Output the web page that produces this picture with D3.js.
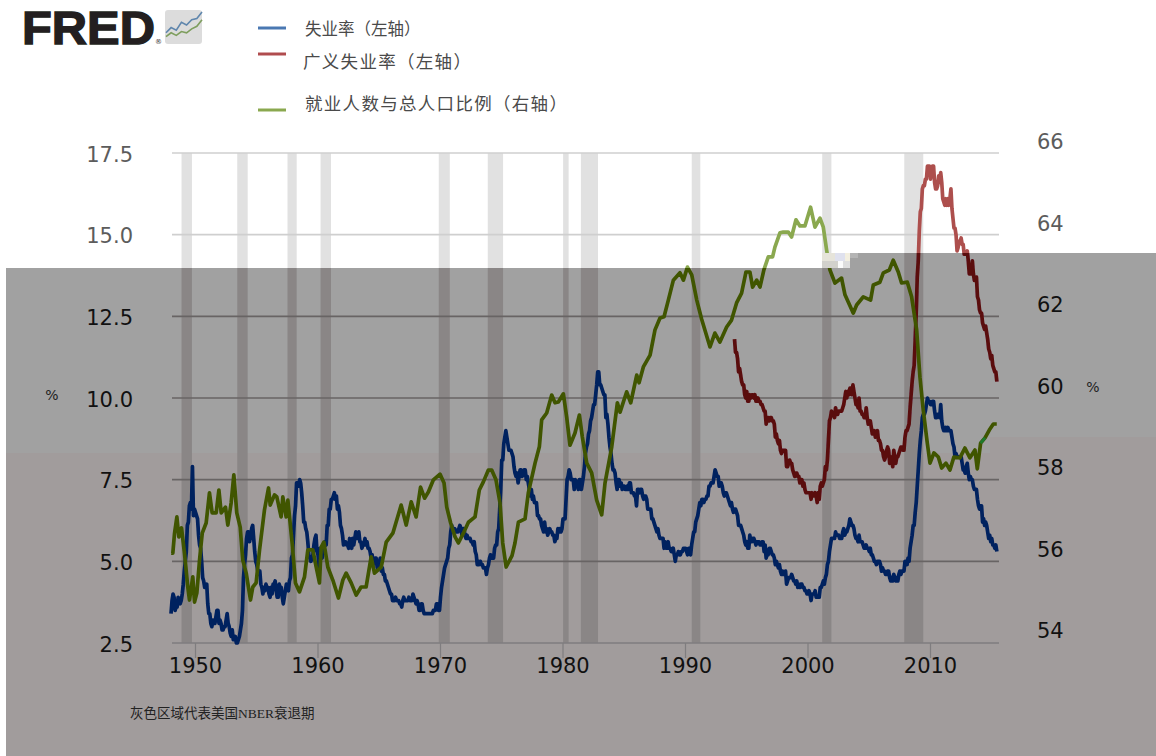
<!DOCTYPE html>
<html><head><meta charset="utf-8">
<script src="https://cdn.jsdelivr.net/npm/d3@7"></script>
<style>
html,body{margin:0;padding:0;background:#fff}
svg{display:block}
text{font-family:"DejaVu Sans",sans-serif}
</style></head><body><svg id="c" width="1156" height="756"></svg>
<script>
// ---------- data ----------
const leftTicks=[2.5,5,7.5,10,12.5,15,17.5];
const rightTicks=[54,56,58,60,62,64,66];
const yearTicks=[1950,1960,1970,1980,1990,2000,2010];
const recessionStart=[1948.9,1953.45,1957.55,1960.25,1969.9,1973.9,1980.05,1981.5,1990.55,2001.2,2007.9];
const recessionEnd=[1949.75,1954.3,1958.3,1961.1,1970.8,1975.15,1980.5,1982.9,1991.25,2001.95,2009.45];
const legendLabels=["失业率（左轴）","广义失业率（左轴）","就业人数与总人口比例（右轴）"];
const footnote="灰色区域代表美国NBER衰退期";
// monthly, from Jan 1948
const unemployment=[
3.4,3.8,4.0,3.9,3.5,3.6,3.6,3.9,3.8,3.7,3.8,4.0,
4.3,4.7,5.0,5.3,6.1,6.2,6.7,6.8,6.6,7.9,6.4,6.6,
6.5,6.4,6.3,5.8,5.5,5.4,5.0,4.5,4.4,4.2,4.2,4.3,
3.7,3.4,3.4,3.1,3.0,3.2,3.1,3.1,3.3,3.5,3.5,3.1,
3.2,3.1,2.9,2.9,3.0,3.0,3.2,3.4,3.1,3.0,2.8,2.7,
2.9,2.6,2.6,2.7,2.5,2.5,2.6,2.7,2.9,3.1,3.5,4.5,
4.9,5.2,5.7,5.9,5.9,5.6,5.8,6.0,6.1,5.7,5.3,5.0,
4.9,4.7,4.6,4.7,4.3,4.2,4.0,4.2,4.1,4.3,4.2,4.2,
4.0,3.9,4.2,4.0,4.3,4.3,4.4,4.1,3.9,3.9,4.3,4.2,
4.2,3.9,3.7,3.9,4.1,4.3,4.2,4.1,4.4,4.5,5.1,5.2,
5.8,6.4,6.7,7.4,7.4,7.3,7.5,7.4,7.1,6.7,6.2,6.2,
6.0,5.9,5.6,5.2,5.1,5.0,5.1,5.2,5.5,5.7,5.8,5.3,
5.2,4.8,5.4,5.2,5.1,5.4,5.5,5.6,5.5,6.1,6.1,6.6,
6.6,6.9,6.9,7.0,7.1,6.9,7.0,6.6,6.7,6.5,6.1,6.0,
5.8,5.5,5.6,5.6,5.5,5.5,5.4,5.7,5.6,5.4,5.7,5.5,
5.7,5.9,5.7,5.7,5.9,5.6,5.6,5.4,5.5,5.5,5.7,5.5,
5.6,5.4,5.4,5.3,5.1,5.2,4.9,5.0,5.1,5.1,4.8,5.0,
4.9,5.1,4.7,4.8,4.6,4.6,4.4,4.4,4.3,4.2,4.1,4.0,
4.0,3.8,3.8,3.8,3.9,3.8,3.8,3.8,3.7,3.7,3.6,3.8,
3.9,3.8,3.8,3.8,3.8,3.9,3.8,3.8,3.8,4.0,3.9,3.8,
3.7,3.8,3.7,3.5,3.5,3.7,3.7,3.5,3.4,3.4,3.4,3.4,
3.4,3.4,3.4,3.4,3.4,3.5,3.5,3.5,3.7,3.7,3.5,3.5,
3.9,4.2,4.4,4.6,4.8,4.9,5.0,5.1,5.4,5.5,5.9,6.1,
5.9,5.9,6.0,5.9,5.9,5.9,6.0,6.1,6.0,5.8,6.0,6.0,
5.8,5.7,5.8,5.7,5.7,5.7,5.6,5.6,5.5,5.6,5.3,5.2,
4.9,5.0,4.9,5.0,4.9,4.9,4.8,4.8,4.8,4.6,4.8,4.9,
5.1,5.2,5.1,5.1,5.1,5.4,5.5,5.5,5.9,6.0,6.6,7.2,
8.1,8.1,8.6,8.8,9.0,8.8,8.6,8.4,8.4,8.4,8.3,8.2,
7.9,7.7,7.6,7.7,7.4,7.6,7.8,7.8,7.6,7.7,7.8,7.8,
7.5,7.6,7.4,7.2,7.0,7.2,6.9,7.0,6.8,6.8,6.8,6.4,
6.4,6.3,6.3,6.1,6.0,5.9,6.2,5.9,6.0,5.8,5.9,6.0,
5.9,5.9,5.8,5.8,5.6,5.7,5.7,6.0,5.9,6.0,5.9,6.0,
6.3,6.3,6.3,6.9,7.5,7.6,7.8,7.7,7.5,7.5,7.5,7.2,
7.5,7.4,7.4,7.2,7.5,7.5,7.2,7.4,7.6,7.9,8.3,8.5,
8.6,8.9,9.0,9.3,9.4,9.6,9.8,9.8,10.1,10.4,10.8,10.8,
10.4,10.4,10.3,10.2,10.1,10.1,9.4,9.5,9.2,8.8,8.5,8.3,
8.0,7.8,7.8,7.7,7.4,7.2,7.5,7.5,7.3,7.4,7.2,7.3,
7.3,7.2,7.2,7.3,7.2,7.4,7.4,7.1,7.1,7.1,7.0,7.0,
6.7,7.2,7.2,7.1,7.2,7.2,7.0,6.9,7.0,7.0,6.9,6.6,
6.6,6.6,6.6,6.3,6.3,6.2,6.1,6.0,5.9,6.0,5.8,5.7,
5.7,5.7,5.7,5.4,5.6,5.4,5.4,5.6,5.4,5.4,5.3,5.3,
5.4,5.2,5.0,5.2,5.2,5.3,5.2,5.2,5.3,5.3,5.4,5.4,
5.4,5.3,5.2,5.4,5.4,5.2,5.5,5.7,5.9,5.9,6.2,6.3,
6.4,6.6,6.8,6.7,6.9,6.9,6.8,6.9,6.9,7.0,7.0,7.3,
7.3,7.4,7.4,7.4,7.6,7.8,7.7,7.6,7.6,7.3,7.4,7.4,
7.3,7.1,7.0,7.1,7.1,7.0,6.9,6.8,6.7,6.8,6.6,6.5,
6.6,6.6,6.5,6.4,6.1,6.1,6.1,6.0,5.9,5.8,5.6,5.5,
5.6,5.4,5.4,5.8,5.6,5.6,5.7,5.7,5.6,5.5,5.6,5.6,
5.6,5.5,5.5,5.6,5.6,5.3,5.5,5.1,5.2,5.2,5.4,5.4,
5.3,5.2,5.2,5.1,4.9,5.0,4.9,4.8,4.9,4.7,4.6,4.7,
4.6,4.6,4.7,4.3,4.4,4.5,4.5,4.5,4.6,4.5,4.4,4.4,
4.3,4.4,4.2,4.3,4.2,4.3,4.3,4.2,4.2,4.1,4.1,4.0,
4.0,4.1,4.0,3.8,4.0,4.0,4.0,4.1,3.9,3.9,3.9,3.9,
4.2,4.2,4.3,4.4,4.3,4.5,4.6,4.9,5.0,5.3,5.5,5.7,
5.7,5.7,5.7,5.9,5.8,5.8,5.8,5.7,5.7,5.7,5.9,6.0,
5.8,5.9,5.9,6.0,6.1,6.3,6.2,6.1,6.1,6.0,5.8,5.7,
5.7,5.6,5.8,5.6,5.6,5.6,5.5,5.4,5.4,5.5,5.4,5.4,
5.3,5.4,5.2,5.2,5.1,5.0,5.0,4.9,5.0,5.0,5.0,4.9,
4.7,4.8,4.7,4.7,4.6,4.6,4.7,4.7,4.5,4.4,4.5,4.4,
4.6,4.5,4.4,4.5,4.4,4.6,4.7,4.6,4.7,4.7,4.7,5.0,
5.0,4.9,5.1,5.0,5.4,5.6,5.8,6.1,6.1,6.5,6.8,7.3,
7.8,8.3,8.7,9.0,9.4,9.5,9.5,9.6,9.8,10.0,9.9,9.9,
9.8,9.8,9.9,9.9,9.6,9.4,9.4,9.5,9.5,9.4,9.8,9.3,
9.1,9.0,9.0,9.1,9.0,9.1,9.0,9.0,9.0,8.8,8.6,8.5,
8.2,8.3,8.2,8.2,8.2,8.2,8.2,8.0,7.8,7.8,7.7,7.9,
8.0,7.7,7.5,7.6,7.5,7.5,7.3,7.2,7.2,7.2,6.9,6.7,
6.6,6.7,6.7,6.2,6.3,6.1,6.2,6.1,5.9,5.7,5.8,5.6,
5.7,5.5,5.5,5.4,5.5,5.3];
// monthly, from Jan 1994
const broadUnemployment=[
11.8,11.4,11.4,11.2,10.8,10.9,10.7,10.5,10.4,10.4,10.1,10.0,
10.2,9.9,9.9,10.1,10.0,10.1,10.1,10.0,10.1,9.9,9.9,10.0,
9.9,9.9,9.8,9.8,9.7,9.6,9.6,9.2,9.4,9.4,9.3,9.4,
9.4,9.3,9.3,9.2,8.8,8.9,8.7,8.6,8.7,8.4,8.3,8.4,
8.4,8.4,8.4,7.9,7.9,8.0,8.1,8.0,8.0,7.8,7.7,7.6,
7.7,7.7,7.6,7.6,7.4,7.5,7.5,7.3,7.4,7.2,7.1,7.1,
7.1,7.1,7.1,6.9,7.1,7.0,7.0,7.1,7.0,6.8,7.1,6.9,
7.3,7.4,7.3,7.4,7.5,7.9,7.8,8.1,8.7,9.3,9.4,9.6,
9.5,9.5,9.4,9.7,9.5,9.5,9.6,9.6,9.6,9.6,9.7,9.8,
10.0,10.2,10.0,10.2,10.1,10.3,10.3,10.1,10.4,10.2,10.0,9.8,
9.9,9.7,10.0,9.6,9.6,9.5,9.5,9.4,9.4,9.7,9.4,9.2,
9.3,9.3,9.1,8.9,8.9,9.0,8.8,8.9,9.0,8.7,8.7,8.6,
8.4,8.4,8.2,8.1,8.2,8.4,8.5,8.4,8.0,8.2,8.1,7.9,
8.4,8.2,8.0,8.2,8.2,8.3,8.4,8.5,8.5,8.4,8.4,8.8,
9.0,9.0,9.1,9.2,9.7,10.1,10.5,10.8,11.0,11.8,12.6,13.7,
14.2,15.1,15.7,15.8,16.4,16.5,16.5,16.7,16.7,17.1,17.1,17.1,
16.7,17.0,17.1,17.1,16.6,16.4,16.4,16.5,16.8,16.6,16.9,16.6,
16.1,16.0,15.9,16.1,15.9,16.1,15.9,16.1,16.4,15.8,15.5,15.2,
15.2,15.0,14.5,14.6,14.8,14.8,14.9,14.7,14.7,14.4,14.4,14.4,
14.5,14.2,13.8,13.9,13.8,14.2,13.8,13.6,13.6,13.7,13.1,13.0,
12.7,12.6,12.6,12.3,12.2,12.1,12.2,12.0,11.8,11.5,11.4,11.2,
11.3,11.0,10.9,10.8,10.8,10.5];
const ratioYears=[1948.05,1948.19,1948.33,1948.52,1948.68,1948.9,1949.14,1949.41,1949.55,1949.82,1949.96,1950.15,1950.37,1950.59,1950.91,1951.18,1951.4,1951.73,1951.95,1952.14,1952.49,1952.68,1952.95,1953.17,1953.41,1953.69,1953.9,1954.18,1954.53,1954.72,1954.99,1955.27,1955.67,1956,1956.14,1956.49,1956.68,1957.03,1957.17,1957.44,1957.58,1957.93,1958.2,1958.53,1958.94,1959.21,1959.62,1959.89,1960.16,1960.3,1960.52,1960.84,1961.25,1961.71,1962.07,1962.34,1962.75,1963.16,1963.56,1963.97,1964.38,1964.65,1965.2,1965.61,1966.15,1966.83,1967.24,1967.65,1968.05,1968.41,1968.74,1969.05,1969.46,1970,1970.33,1970.55,1970.87,1971.23,1971.5,1971.91,1972.32,1972.86,1973.21,1973.54,1973.95,1974.22,1974.57,1974.9,1975.12,1975.4,1975.88,1976.12,1976.4,1976.94,1977.21,1977.76,1978.11,1978.3,1978.71,1979.12,1979.39,1979.66,1980.07,1980.34,1980.61,1981.02,1981.38,1981.62,1981.98,1982.38,1982.79,1983.2,1983.47,1984.02,1984.48,1984.7,1985.24,1985.57,1986.06,1986.25,1986.6,1987.15,1987.55,1987.96,1988.29,1988.64,1989.05,1989.59,1989.87,1990.2,1990.55,1990.96,1991.36,1992.04,1992.44,1992.85,1993.4,1993.8,1994.21,1994.62,1994.98,1995.3,1995.52,1995.85,1996.12,1996.44,1996.8,1997.15,1997.34,1997.75,1998.02,1998.43,1998.7,1999.06,1999.38,1999.79,2000.25,2000.61,2001.02,2001.29,2001.56,2001.83,2002.24,2002.78,2003.06,2003.74,2004.01,2004.55,2005.15,2005.37,2005.91,2006.19,2006.68,2007,2007.41,2007.68,2008.15,2008.5,2008.91,2009.18,2009.45,2009.78,2010,2010.32,2010.68,2010.95,2011.3,2011.63,2011.95,2012.44,2012.85,2013.26,2013.67,2013.86,2014.13,2014.49,2014.84,2015.17,2015.45];
const ratioValues=[55.91,55.91,56.4,56.8,56.31,56.53,55.91,55.08,54.76,55.33,54.71,54.93,55.74,56.4,56.65,57.39,56.9,56.9,57.46,56.9,57.04,56.6,57.14,57.83,56.9,56.55,55.74,55.42,54.76,55.08,55.18,55.99,56.97,57.51,57.09,57.34,57.29,56.8,57.29,56.8,57.21,56.16,55.18,54.96,55.33,55.99,55.99,55.57,55.18,56.06,56.18,55.57,55.25,54.81,55.25,55.42,55.18,54.88,55.08,55.08,55.82,55.42,55.57,56.18,56.4,57.09,56.6,57.17,56.8,57.53,57.26,57.41,57.71,57.85,57.63,57.04,56.65,56.31,56.16,56.4,56.67,56.8,57.46,57.66,57.95,57.95,57.71,57.14,56.16,55.57,55.85,56.16,56.67,56.75,57.39,58.12,58.52,59.18,59.35,59.79,59.6,59.62,59.82,59.25,58.56,58.86,59.3,58.76,58.12,57.88,57.21,56.85,57.63,58.52,59.6,59.37,59.87,59.6,60.28,60.09,60.48,60.77,61.39,61.68,61.71,62.12,62.61,62.79,62.61,62.93,62.74,62.12,61.65,60.97,61.31,61.09,61.46,61.63,62.05,62.29,62.81,62.81,62.44,62.61,62.44,62.86,63.18,63.18,63.42,63.77,63.79,63.79,63.67,64.09,63.94,63.94,64.4,63.91,64.13,63.91,63.35,62.86,62.54,62.66,62.25,61.8,62,62.2,62.12,62.49,62.56,62.79,62.86,63.1,62.81,62.54,62.56,62.2,61.39,60.23,59.42,58.61,58.12,58.37,58.27,58,58.12,57.95,58.27,58.25,58.49,58.25,58.44,57.98,58.61,58.74,58.93,59.08,59.08];
const logoBlue=[0,1,2,3,4,5,6,7];
const logoBlueV=[2,4,3,6,5,7,7.5,10];
const logoGreenV=[0.5,2,1,2.5,2,3.5,4.5,7];

// ---------- scales ----------
const svg=d3.select("#c");
const x=d3.scaleLinear().domain([1950,2010]).range([195,930]);
const yL=d3.scaleLinear().domain([2.5,17.5]).range([643,153]);
const yR=d3.scaleLinear().domain([54,66]).range([631,142]);
const blue=unemployment.map((v,i)=>({t:1948+(i+0.5)/12,v}));
const red=broadUnemployment.map((v,i)=>({t:1994+(i+0.5)/12,v}));
const green=ratioYears.map((t,i)=>({t,v:ratioValues[i]}));
const lineL=d3.line().x(d=>x(d.t)).y(d=>yL(d.v));
const lineR=d3.line().x(d=>x(d.t)).y(d=>yR(d.v));
const overlayPts=[[6,268],[822,268],[822,253],[1156,253],[1156,756],[6,756]];

// ---------- overlay background ----------
const defs=svg.append("defs");
defs.append("clipPath").attr("id","dark").append("polygon").attr("points",overlayPts.join(" "));
defs.append("clipPath").attr("id","light").append("path").attr("clip-rule","evenodd")
  .attr("d","M0 0H1156V756H0Z M"+overlayPts.map(p=>p.join(" ")).join("L")+"Z");
defs.append("filter").attr("id","soft").append("feGaussianBlur").attr("stdDeviation",0.35);
svg.append("polygon").attr("points",overlayPts.join(" ")).attr("fill","#a1a1a1");
svg.append("rect").attr("x",6).attr("y",453).attr("width",984).attr("height",303).attr("fill","#a19c9c");
svg.append("rect").attr("x",990).attr("y",437).attr("width",166).attr("height",319).attr("fill","#a19c9c");

// ---------- marks, drawn twice: on white and under the grey overlay ----------
function marks(clip,pal){
  const g=svg.append("g").attr("clip-path",`url(#${clip})`);
  g.append("g").selectAll("rect").data(recessionStart).join("rect")
    .attr("x",d=>x(d)).attr("y",yL(17.5))
    .attr("width",(d,i)=>x(recessionEnd[i])-x(d)).attr("height",yL(2.5)-yL(17.5))
    .attr("fill",pal.band);
  g.append("g").selectAll("line").data(leftTicks).join("line")
    .attr("x1",172).attr("x2",999).attr("y1",d=>yL(d)).attr("y2",d=>yL(d))
    .attr("stroke",d=>d===2.5?pal.base:pal.grid).attr("stroke-width",1.6);
  const l=g.append("g").attr("fill","none").attr("stroke-width",3.7).attr("stroke-linejoin","round").attr("filter","url(#soft)");
  l.append("path").attr("d",lineL(blue)).attr("stroke",pal.blue);
  l.append("path").attr("d",lineL(red)).attr("stroke",pal.red);
  l.append("path").attr("d",lineR(green)).attr("stroke",pal.green);
  return l;
}
marks("light",{band:"#e1e1e1",grid:"#cfcfcf",base:"#cfcfcf",blue:"#4572a7",red:"#ad4f4d",green:"#8aa84f"});
const darkLines=marks("dark",{band:"#8a8686",grid:"#686464",base:"#7f7d7f",blue:"#04205f",red:"#5a0a10",green:"#3f5506"});
// bright fragment near the end of the green line
darkLines.append("path").attr("d",lineR(green.filter(d=>d.t>2013.9&&d.t<2014.6))).attr("fill","none").attr("stroke","#1f7a2e").attr("stroke-width",3);

// ---------- mosaic smudge at the overlay's step ----------
const smudgeX=[822,835,845,850,822,838,843];
const smudgeY=[253,253,253,253,261,261,261];
const smudgeW=[13,10,5,8,16,5,7];
const smudgeH=[8,8,8,5,7,7,7];
const smudgeC=["#e6e4da","#dfe1ee","#f3efe0","#b4b4b4","#d2d1cc","#fbfbfb","#dedede"];
svg.append("g").selectAll("rect").data(smudgeX).join("rect")
  .attr("x",d=>d).attr("y",(d,i)=>smudgeY[i]).attr("width",(d,i)=>smudgeW[i]).attr("height",(d,i)=>smudgeH[i]).attr("fill",(d,i)=>smudgeC[i]);

// ---------- axes ----------
const axisL=svg.append("g").attr("transform","translate(133,1.5)")
  .call(d3.axisLeft(yL).tickValues(leftTicks).tickFormat(d3.format(".1f")).tickSize(0).tickPadding(0));
const axisR=svg.append("g").attr("transform","translate(1037,0)")
  .call(d3.axisRight(yR).tickValues(rightTicks).tickFormat(d3.format("d")).tickSize(0).tickPadding(0));
const axisB=svg.append("g").attr("transform","translate(0,643)")
  .call(d3.axisBottom(x).tickValues(yearTicks).tickFormat(d3.format("d")).tickSize(15).tickPadding(0));
[axisL,axisR,axisB].forEach(a=>{a.select(".domain").remove();
  a.selectAll("text").attr("font-size",21).attr("font-family","DejaVu Sans").attr("fill","#111");});
axisB.selectAll("line").attr("stroke","#7f7d7f").attr("stroke-width",1.2);
axisL.selectAll("text").filter(d=>d>=15).attr("fill","#5c5c5c");
axisR.selectAll("text").filter(d=>d>=64).attr("fill","#5c5c5c");

svg.append("text").attr("x",52).attr("y",400).attr("text-anchor","middle").attr("font-size",14).attr("font-family","Liberation Serif").attr("fill","#222").text("%");
svg.append("text").attr("x",1093).attr("y",392).attr("text-anchor","middle").attr("font-size",14).attr("font-family","Liberation Serif").attr("fill","#222").text("%");
svg.append("text").attr("x",130).attr("y",718).attr("font-size",13.5).attr("style",'font-family:"Liberation Serif","Noto Sans CJK SC"').attr("fill","#222").text(footnote);

// ---------- legend ----------
const legY=[28,54,110], legC=["#4a78b2","#b04c4e","#8aa84f"], legTextY=[29,62,104];
const legSize=[16.5,17.5,17.5], legSpace=[0,1.3,1.3];
const lg=svg.append("g");
lg.selectAll("line").data(legY).join("line").attr("x1",258).attr("x2",286).attr("y1",d=>d).attr("y2",d=>d)
  .attr("stroke",(d,i)=>legC[i]).attr("stroke-width",3);
lg.selectAll("text").data(legendLabels).join("text")
  .attr("x",(d,i)=>i===1?303:305).attr("y",(d,i)=>legTextY[i]+6)
  .attr("font-size",(d,i)=>legSize[i]).attr("letter-spacing",(d,i)=>legSpace[i])
  .attr("style",'font-family:"Noto Sans CJK SC"').attr("fill","#4a4a4a").text(d=>d);

// ---------- logo ----------
svg.append("text").attr("x",22).attr("y",43.5).attr("font-size",47).attr("font-weight",700)
  .attr("textLength",133).attr("lengthAdjust","spacingAndGlyphs")
  .attr("style",'font-family:"Liberation Sans"').attr("fill","#231f20").attr("stroke","#231f20").attr("stroke-width",1.4).text("FRED");
svg.append("text").attr("x",155).attr("y",44).attr("font-size",7).attr("fill","#333").text("®");
svg.append("rect").attr("x",165).attr("y",10).attr("width",37).attr("height",34).attr("rx",3).attr("fill","#dcdcdc");
const lx=d3.scaleLinear().domain([0,7]).range([166,202]), ly=d3.scaleLinear().domain([0,10]).range([38,12]);
const logoLine=d3.line().x((d,i)=>lx(logoBlue[i])).y(d=>ly(d));
svg.append("path").attr("d",logoLine(logoBlueV)).attr("fill","none").attr("stroke","#5f86ad").attr("stroke-width",1.6);
svg.append("path").attr("d",logoLine(logoGreenV)).attr("fill","none").attr("stroke","#7e9e5e").attr("stroke-width",1.6);
</script></body></html>
